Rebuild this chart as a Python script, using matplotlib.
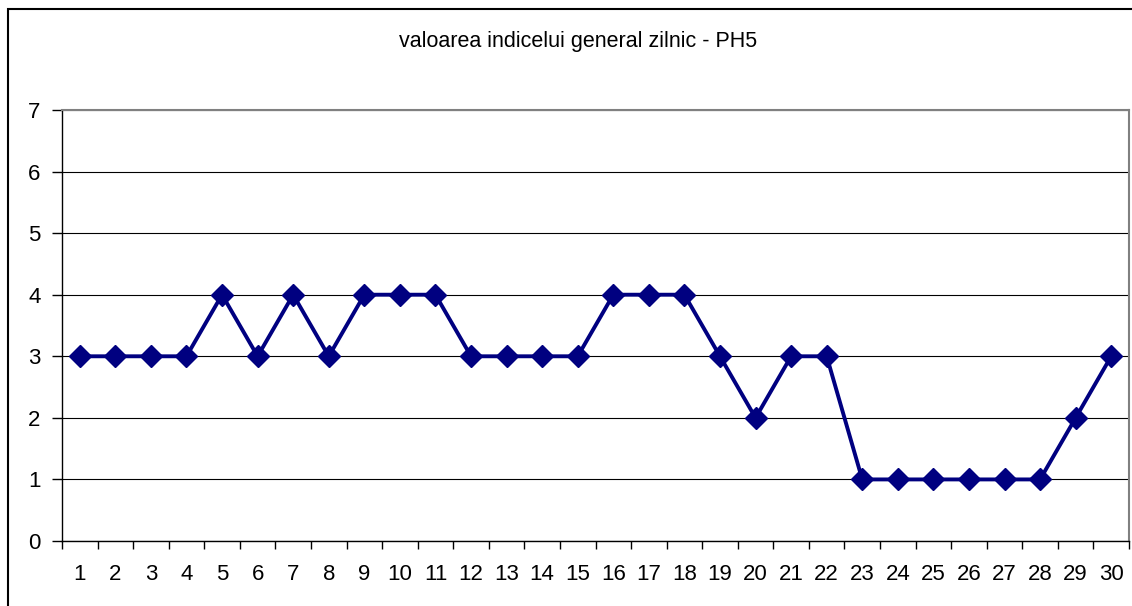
import matplotlib.pyplot as plt
from matplotlib.patches import Rectangle

zile = list(range(1, 31))
valori = [3, 3, 3, 3, 4, 3, 4, 3, 4, 4, 4, 3, 3, 3, 3, 4, 4, 4, 3, 2, 3, 3, 1, 1, 1, 1, 1, 1, 2, 3]
titlu = 'valoarea indicelui general zilnic - PH5'

plt.rcParams['font.family'] = ['Liberation Sans', 'DejaVu Sans']

fig = plt.figure(figsize=(11.32, 6.06), dpi=100)
# chenarul exterior (taiat la dreapta si jos)
fig.patches.append(Rectangle((7.5 / 1132, -0.1), 1.2, 1.1 - 8.5 / 606,
                             transform=fig.transFigure, fill=False,
                             edgecolor='black', linewidth=1.5))

ax = fig.add_axes([62 / 1132, 65 / 606, (1129 - 62) / 1132, (541 - 110) / 606])

ax.plot(zile, valori, color='#000080', linewidth=2.8, marker='D', markersize=11,
        clip_on=False, zorder=3)

ax.set_xlim(0.5, 30.5)
ax.set_ylim(0, 7)
ax.set_yticks(range(0, 8))
ax.set_xticks(zile)
ax.set_xticks([k + 0.5 for k in range(0, 31)], minor=True)
ax.tick_params(axis='x', which='major', length=0, pad=16.5, labelsize=16)
ax.tick_params(axis='x', which='minor', length=6, width=1, color='black', direction='out')
ax.tick_params(axis='y', length=7, width=1, labelsize=16, pad=8.5)

ax.grid(axis='y', color='black', linewidth=0.8)
ax.set_axisbelow(True)

for s in ['top', 'right']:
    ax.spines[s].set_color('#808080')
    ax.spines[s].set_linewidth(1.5)
ax.spines['left'].set_linewidth(1)
ax.spines['bottom'].set_linewidth(1)

fig.text(578 / 1132, 1 - 41 / 606, titlu, ha='center', va='center', fontsize=15.5)

fig.savefig('out.png', dpi=100)
